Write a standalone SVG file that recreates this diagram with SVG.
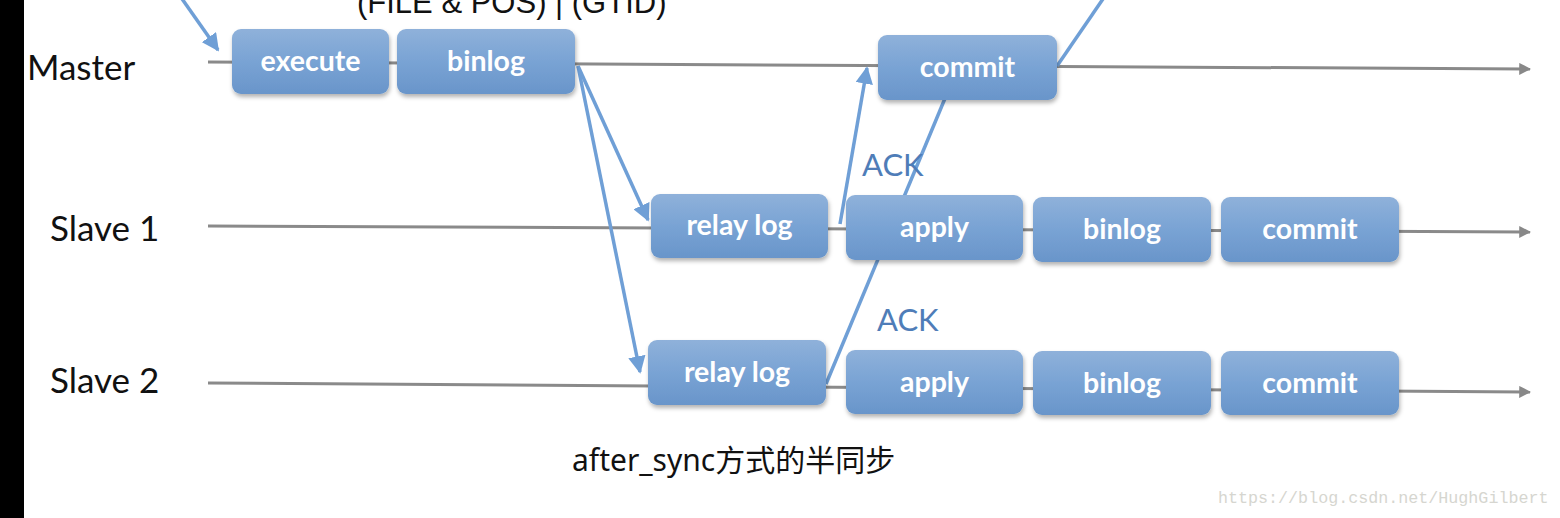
<svg xmlns="http://www.w3.org/2000/svg" width="1560" height="518" viewBox="0 0 1560 518">
<defs>
<linearGradient id="bx" x1="0" y1="0" x2="0" y2="1">
<stop offset="0" stop-color="#8fb1da"/>
<stop offset="0.5" stop-color="#79a3d4"/>
<stop offset="1" stop-color="#6995ca"/>
</linearGradient>
<filter id="sh" x="-10%" y="-10%" width="125%" height="135%">
<feDropShadow dx="1" dy="3" stdDeviation="2" flood-color="#000" flood-opacity="0.3"/>
</filter>
<marker id="ga" viewBox="0 0 10 10" refX="9" refY="5" markerWidth="4" markerHeight="4" orient="auto" markerUnits="strokeWidth">
<path d="M0,0 L10,5 L0,10 z" fill="#888"/>
</marker>
<marker id="ba" viewBox="0 0 10 10" refX="9" refY="5" markerWidth="5" markerHeight="5" orient="auto" markerUnits="strokeWidth">
<path d="M0,0 L10,5 L0,10 z" fill="#6f9fd6"/>
</marker>
</defs>
<style>
.lane{stroke:#8a8a8a;stroke-width:3;fill:none}
.flow{stroke:#6f9fd6;stroke-width:3.5;fill:none}
.box{fill:url(#bx);filter:url(#sh)}
.bt{font-family:Lato,"Liberation Sans",sans-serif;font-weight:bold;font-size:28.5px;fill:#fff;text-anchor:middle}
.lbl{font-family:Lato,"Liberation Sans",sans-serif;font-size:35px;fill:#111}
.ack{font-family:Lato,"Liberation Sans",sans-serif;font-size:31px;fill:#4f7db8}
</style>
<rect width="1560" height="518" fill="#fff"/>
<rect x="0" y="0" width="24" height="518" fill="#000"/>
<text x="357" y="13" font-family="'Liberation Sans',Arial,sans-serif" font-size="31" fill="#111">(FILE &amp; POS) | (GTID)</text>
<text class="lbl" x="27" y="80">Master</text>
<text class="lbl" x="50" y="241">Slave 1</text>
<text class="lbl" x="50" y="393">Slave 2</text>
<g id="connectors">
<line class="lane" x1="208" y1="62" x2="1530" y2="69" marker-end="url(#ga)"/>
<line class="lane" x1="208" y1="226" x2="1530" y2="232" marker-end="url(#ga)"/>
<line class="lane" x1="208" y1="383" x2="1530" y2="392" marker-end="url(#ga)"/>
<line class="flow" x1="180" y1="-4" x2="218" y2="50" marker-end="url(#ba)"/>
<line class="flow" x1="578" y1="66" x2="648" y2="220" marker-end="url(#ba)"/>
<line class="flow" x1="578" y1="66" x2="640" y2="372" marker-end="url(#ba)"/>
<line class="flow" x1="840" y1="224" x2="867" y2="68" marker-end="url(#ba)"/>
<line class="flow" x1="826" y1="384" x2="946" y2="96"/>
<line class="flow" x1="1057" y1="66" x2="1105" y2="-4"/>
</g>
<g id="m-execute"><rect class="box" x="232" y="29" width="157" height="65" rx="9"/><text class="bt" x="310.5" y="71">execute</text></g>
<g id="m-binlog"><rect class="box" x="397" y="29" width="178" height="65" rx="9"/><text class="bt" x="486" y="71">binlog</text></g>
<g id="m-commit"><rect class="box" x="878" y="35" width="179" height="65" rx="9"/><text class="bt" x="967.5" y="77">commit</text></g>
<g id="s1-relay"><rect class="box" x="651" y="194" width="177" height="64" rx="9"/><text class="bt" x="739.5" y="235">relay log</text></g>
<g id="s1-apply"><rect class="box" x="846" y="195" width="177" height="65" rx="9"/><text class="bt" x="934.5" y="237">apply</text></g>
<g id="s1-binlog"><rect class="box" x="1033" y="197" width="178" height="65" rx="9"/><text class="bt" x="1122" y="239">binlog</text></g>
<g id="s1-commit"><rect class="box" x="1221" y="197" width="178" height="65" rx="9"/><text class="bt" x="1310" y="239">commit</text></g>
<g id="s2-relay"><rect class="box" x="648" y="340" width="178" height="65" rx="9"/><text class="bt" x="737" y="382">relay log</text></g>
<g id="s2-apply"><rect class="box" x="846" y="350" width="177" height="64" rx="9"/><text class="bt" x="934.5" y="392">apply</text></g>
<g id="s2-binlog"><rect class="box" x="1033" y="351" width="178" height="64" rx="9"/><text class="bt" x="1122" y="393">binlog</text></g>
<g id="s2-commit"><rect class="box" x="1221" y="351" width="178" height="64" rx="9"/><text class="bt" x="1310" y="393">commit</text></g>
<text class="ack" x="862" y="176">ACK</text>
<text class="ack" x="877" y="331">ACK</text>
<text x="572" y="471" font-family="'Noto Sans','Noto Sans CJK SC',sans-serif" font-size="30" fill="#111">after_sync方式的半同步</text>
<text x="1218" y="503" font-family="'Liberation Mono','DejaVu Sans Mono',monospace" font-size="16.7" fill="#d6d6d0">https://blog.csdn.net/HughGilbert</text>
</svg>
